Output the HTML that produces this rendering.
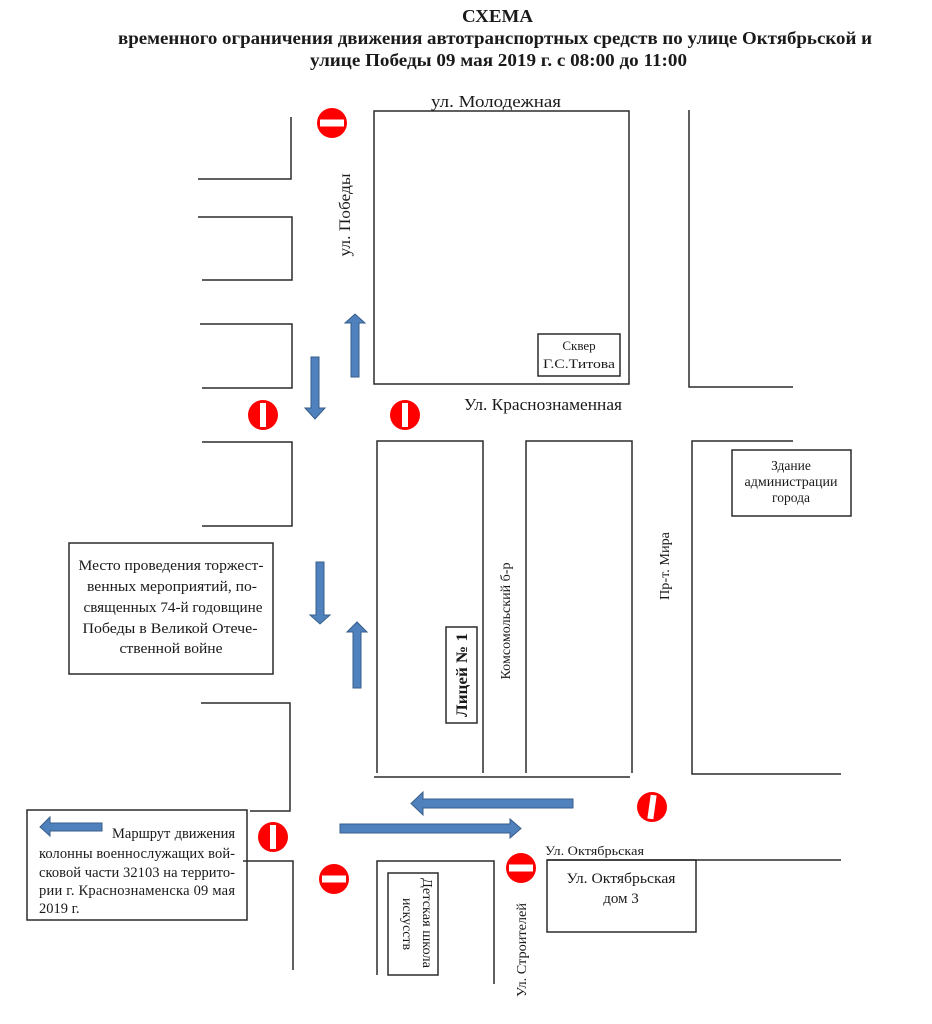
<!DOCTYPE html>
<html>
<head>
<meta charset="utf-8">
<style>
  html, body { margin: 0; padding: 0; background: #fff; }
  svg { display: block; }
  text { font-family: "Liberation Serif", "DejaVu Serif", serif; fill: #1a1a1a; }
</style>
</head>
<body>
<svg width="932" height="1024" viewBox="0 0 932 1024" xmlns="http://www.w3.org/2000/svg">
  <rect x="0" y="0" width="932" height="1024" fill="#ffffff"/>

  <!-- Title -->
  <text x="462" y="22" font-size="18" font-weight="bold" textLength="71" lengthAdjust="spacingAndGlyphs">СХЕМА</text>
  <text x="118" y="44" font-size="18" font-weight="bold" textLength="754" lengthAdjust="spacingAndGlyphs">временного ограничения движения автотранспортных средств по улице Октябрьской и</text>
  <text x="310" y="66" font-size="18" font-weight="bold" textLength="377" lengthAdjust="spacingAndGlyphs">улице Победы 09 мая 2019 г. с 08:00 до 11:00</text>

  <!-- Street / building outlines -->
  <g stroke="#2b2b2b" stroke-width="1.5" fill="none">
    <path d="M291 117 V179 H198"/>
    <path d="M198 217 H292 V280 H202"/>
    <path d="M200 324 H292 V388 H202"/>
    <rect x="374" y="111" width="255" height="273"/>
    <path d="M689 110 V387 H793"/>
    <path d="M202 442 H292 V526 H202"/>
    <path d="M377 773 V441 H483 V773"/>
    <path d="M526 773 V441 H632 V773"/>
    <path d="M374 777 H630"/>
    <path d="M793 441 H692 V774 H841"/>
    <path d="M201 703 H290 V811 H250"/>
    <path d="M243 861 H293 V970"/>
    <path d="M377 975 V861 H494 V984"/>
    <path d="M547 860 H841"/>
    <rect x="547" y="860" width="149" height="72"/>

    <!-- label boxes -->
    <rect x="69" y="543" width="204" height="131"/>
    <rect x="27" y="810" width="220" height="110"/>
    <rect x="538" y="334" width="82" height="42"/>
    <rect x="732" y="450" width="119" height="66"/>
    <rect x="446" y="627" width="31" height="96"/>
    <rect x="388" y="873" width="50" height="102"/>
  </g>

  <!-- Street labels -->
  <text x="431" y="107" font-size="17" textLength="130" lengthAdjust="spacingAndGlyphs">ул. Молодежная</text>
  <text x="464" y="410" font-size="16.5" textLength="158" lengthAdjust="spacingAndGlyphs">Ул. Краснознаменная</text>
  <text transform="translate(345,215) rotate(-90)" x="0" y="5" font-size="16" text-anchor="middle" textLength="83" lengthAdjust="spacingAndGlyphs">ул. Победы</text>
  <text transform="translate(505,621) rotate(-90)" x="0" y="5" font-size="14" text-anchor="middle" textLength="117" lengthAdjust="spacingAndGlyphs">Комсомольский б-р</text>
  <text transform="translate(664,566) rotate(-90)" x="0" y="5" font-size="14" text-anchor="middle" textLength="68" lengthAdjust="spacingAndGlyphs">Пр-т. Мира</text>
  <text transform="translate(521,950) rotate(-90)" x="0" y="5" font-size="14" text-anchor="middle" textLength="94" lengthAdjust="spacingAndGlyphs">Ул. Строителей</text>
  <text x="545" y="855" font-size="13" textLength="99" lengthAdjust="spacingAndGlyphs">Ул. Октябрьская</text>

  <!-- Box labels -->
  <text x="579" y="350" font-size="13" text-anchor="middle">Сквер</text>
  <text x="579" y="368" font-size="13" text-anchor="middle" textLength="72" lengthAdjust="spacingAndGlyphs">Г.С.Титова</text>

  <text x="791" y="470" font-size="13.5" text-anchor="middle">Здание</text>
  <text x="791" y="486" font-size="13.5" text-anchor="middle" textLength="93" lengthAdjust="spacingAndGlyphs">администрации</text>
  <text x="791" y="502" font-size="13.5" text-anchor="middle">города</text>

  <text x="621" y="883" font-size="15" text-anchor="middle" textLength="109" lengthAdjust="spacingAndGlyphs">Ул. Октябрьская</text>
  <text x="621" y="903" font-size="15" text-anchor="middle">дом 3</text>

  <text transform="translate(461,675) rotate(-90)" x="0" y="6" font-size="16" font-weight="bold" text-anchor="middle" textLength="84" lengthAdjust="spacingAndGlyphs">Лицей № 1</text>

  <text transform="translate(428,923) rotate(90)" x="0" y="5" font-size="13.5" text-anchor="middle" textLength="90" lengthAdjust="spacingAndGlyphs">Детская школа</text>
  <text transform="translate(408,924) rotate(90)" x="0" y="5" font-size="13.5" text-anchor="middle" textLength="52" lengthAdjust="spacingAndGlyphs">искусств</text>

  <!-- Место проведения -->
  <g font-size="15" text-anchor="middle">
    <text x="171" y="570" textLength="185" lengthAdjust="spacingAndGlyphs">Место проведения торжест-</text>
    <text x="172" y="591" textLength="170" lengthAdjust="spacingAndGlyphs">венных мероприятий, по-</text>
    <text x="173" y="612" textLength="179" lengthAdjust="spacingAndGlyphs">священных 74-й годовщине</text>
    <text x="170" y="633" textLength="175" lengthAdjust="spacingAndGlyphs">Победы  в Великой Отече-</text>
    <text x="171" y="653" textLength="103" lengthAdjust="spacingAndGlyphs">ственной войне</text>
  </g>

  <!-- Маршрут legend -->
  <g font-size="14.5">
    <text x="112" y="838">Маршрут</text>
    <text x="235" y="838" text-anchor="end">движения</text>
    <text x="39" y="858" textLength="196" lengthAdjust="spacing">колонны военнослужащих вой-</text>
    <text x="39" y="877" textLength="196" lengthAdjust="spacing">сковой части 32103 на террито-</text>
    <text x="39" y="895" textLength="196" lengthAdjust="spacing">рии г. Краснознаменска 09 мая</text>
    <text x="39" y="913">2019 г.</text>
  </g>

  <!-- Arrows -->
  <g fill="#4f81bd" stroke="#385d8a" stroke-width="1">
    <polygon points="311,357 319,357 319,408 325,408 315,419 305,408 311,408"/>
    <polygon points="351,377 359,377 359,323 365,323 355,314 345,323 351,323"/>
    <polygon points="316,562 324,562 324,615 330,615 320,624 310,615 316,615"/>
    <polygon points="353,688 361,688 361,632 367,632 357,622 347,632 353,632"/>
    <polygon points="573,799 573,808 423,808 423,815 411,803.5 423,792 423,799"/>
    <polygon points="340,824 340,833 510,833 510,838 521,828.5 510,819 510,824"/>
    <polygon points="102,823 102,831 50,831 50,836 40,827 50,817 50,823"/>
  </g>

  <!-- No-entry signs -->
  <g>
    <circle cx="332" cy="123" r="15" fill="#ff0000"/>
    <rect x="320" y="119.5" width="24" height="7" fill="#ffffff"/>

    <circle cx="263" cy="415" r="15" fill="#ff0000"/>
    <rect x="260" y="403" width="6" height="24" fill="#ffffff"/>

    <circle cx="405" cy="415" r="15" fill="#ff0000"/>
    <rect x="402" y="403" width="6" height="24" fill="#ffffff"/>

    <circle cx="652" cy="807" r="15" fill="#ff0000"/>
    <rect x="649" y="795" width="6" height="24" fill="#ffffff" transform="rotate(8 652 807)"/>

    <circle cx="273" cy="837" r="15" fill="#ff0000"/>
    <rect x="270" y="825" width="6" height="24" fill="#ffffff"/>

    <circle cx="334" cy="879" r="15" fill="#ff0000"/>
    <rect x="322" y="875.5" width="24" height="7" fill="#ffffff"/>

    <circle cx="521" cy="868" r="15" fill="#ff0000"/>
    <rect x="509" y="864.5" width="24" height="7" fill="#ffffff"/>
  </g>
</svg>
</body>
</html>
